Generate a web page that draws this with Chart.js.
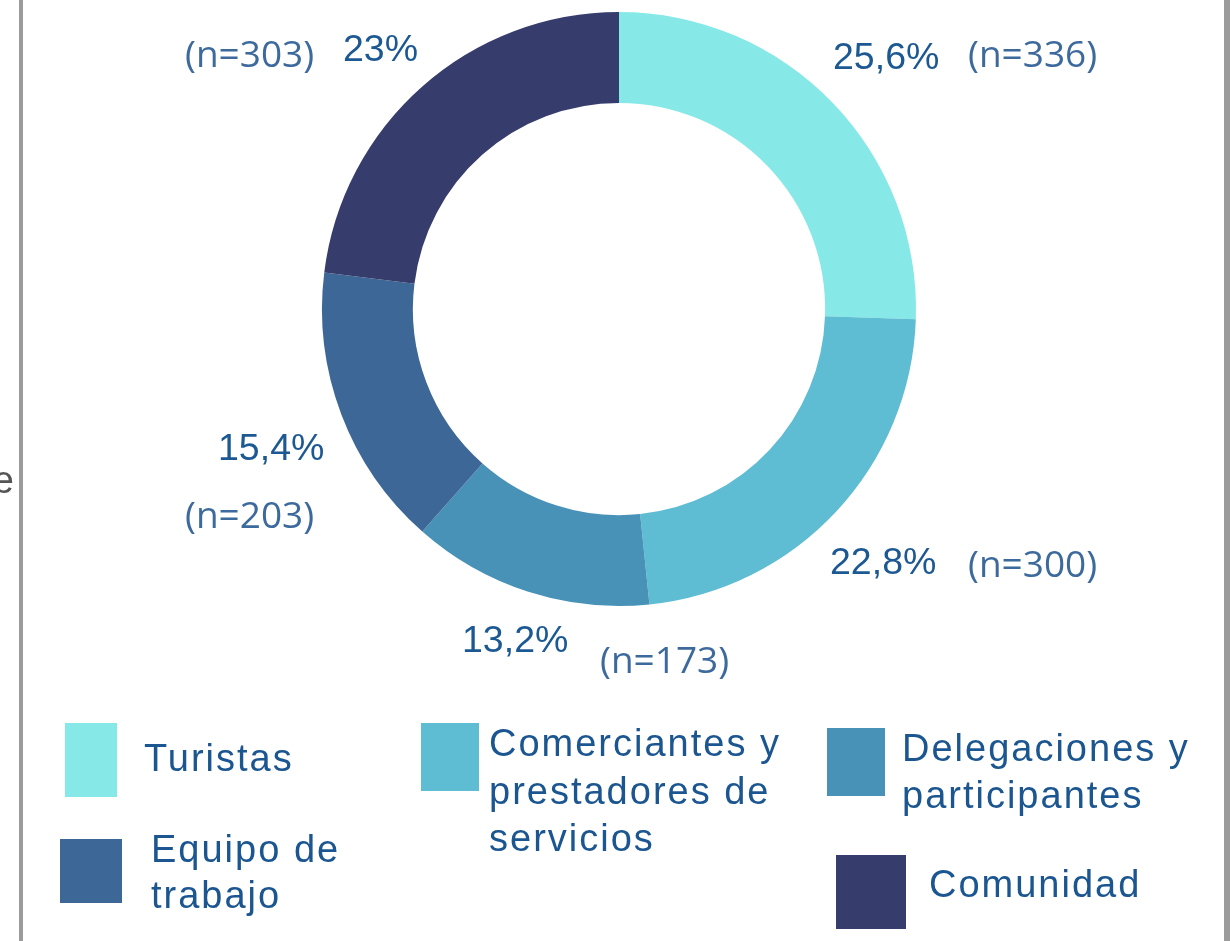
<!DOCTYPE html>
<html>
<head>
<meta charset="utf-8">
<script src="https://cdn.jsdelivr.net/npm/chart.js@4/dist/chart.umd.min.js"></script>
<style>
  html, body { margin: 0; padding: 0; background: #ffffff; }
  #wrap { position: relative; width: 1230px; height: 941px; overflow: hidden; }
  canvas { display: block; }
</style>
</head>
<body>
<div id="wrap"><canvas id="c" width="1230" height="941"></canvas></div>
<script>
// ---- data ----
const categories = [
  "Turistas",
  "Comerciantes y prestadores de servicios",
  "Delegaciones y participantes",
  "Equipo de trabajo",
  "Comunidad"
];
const counts = [336, 300, 173, 203, 303];
const colors = ["#87E9E7", "#5EBCD3", "#4892B8", "#3D6796", "#363C6C"];

// ---- layout (text placement only, offsets from doughnut centre) ----
const pctOffsets = [[214, -240], [211, 265], [-157, 343], [-401, 151], [-276, -248]];
const nOffsets   = [[349, -242], [349, 268], [-19, 364], [-434, 219], [-434, -242]];
// legend: [boxX, boxY, boxW, boxH, textX, firstBaseline, lineHeight, wrapWidth]
const legendLayout = [
  [65, 723, 52, 74, 144, 771, 47, 310],
  [421, 723, 58, 68, 489, 756, 47.5, 310],
  [827, 728, 58, 68, 902, 761, 47, 310],
  [60, 839, 62, 64, 151, 862, 46, 210],
  [836, 855, 70, 74, 929, 897, 47, 310]
];

const total = counts.reduce((a, b) => a + b, 0);
function pctText(v) {
  let s = (v / total * 100).toFixed(1);
  if (s.endsWith(".0")) s = s.slice(0, -2);
  return s.replace(".", ",") + "%";
}

const decor = {
  id: "decor",
  beforeDraw(chart) {
    const ctx = chart.ctx;
    ctx.save();
    ctx.fillStyle = "#ffffff";
    ctx.fillRect(0, 0, chart.width, chart.height);
    ctx.fillStyle = "#9b9b9b";
    ctx.fillRect(19, 0, 4, chart.height);
    ctx.fillRect(1224, 0, 6, chart.height);
    ctx.fillStyle = "#555555";
    ctx.font = "38px 'Liberation Sans', Arial, sans-serif";
    ctx.textAlign = "right";
    ctx.textBaseline = "alphabetic";
    ctx.fillText("e", 14, 493);
    ctx.restore();
  },
  afterDraw(chart) {
    const ctx = chart.ctx;
    const arcs = chart.getDatasetMeta(0).data;
    const cx = arcs[0].x, cy = arcs[0].y;
    ctx.save();
    ctx.textAlign = "left";
    ctx.textBaseline = "alphabetic";
    counts.forEach((v, i) => {
      ctx.font = "37.5px 'Liberation Sans', Arial, sans-serif";
      ctx.fillStyle = "#1C5892";
      ctx.fillText(pctText(v), cx + pctOffsets[i][0], cy + pctOffsets[i][1]);
      ctx.font = "37px 'Open Sans', sans-serif";
      ctx.fillStyle = "#3D6A9D";
      ctx.fillText("(n=" + v + ")", cx + nOffsets[i][0], cy + nOffsets[i][1]);
    });
    // legend
    ctx.font = "38px 'Liberation Sans', Arial, sans-serif";
    try { ctx.letterSpacing = "2px"; } catch (e) {}
    categories.forEach((label, i) => {
      const [bx, by, bw, bh, tx, ty, lh, ww] = legendLayout[i];
      ctx.fillStyle = colors[i];
      ctx.fillRect(bx, by, bw, bh);
      const words = label.split(" ");
      const lines = [];
      let cur = "";
      words.forEach(w => {
        const test = cur ? cur + " " + w : w;
        if (cur && ctx.measureText(test).width > ww) { lines.push(cur); cur = w; }
        else cur = test;
      });
      if (cur) lines.push(cur);
      ctx.fillStyle = "#1B5690";
      lines.forEach((ln, k) => ctx.fillText(ln, tx, ty + k * lh));
    });
    ctx.restore();
  }
};

new Chart(document.getElementById("c"), {
  type: "doughnut",
  data: {
    labels: categories,
    datasets: [{
      data: counts,
      backgroundColor: colors,
      borderWidth: 0,
      hoverOffset: 0
    }]
  },
  options: {
    responsive: false,
    animation: false,
    cutout: "69.4%",
    layout: { padding: { left: 321, right: 313, top: 12, bottom: 335 } },
    plugins: {
      legend: { display: false },
      tooltip: { enabled: false }
    }
  },
  plugins: [decor]
});
</script>
</body>
</html>
